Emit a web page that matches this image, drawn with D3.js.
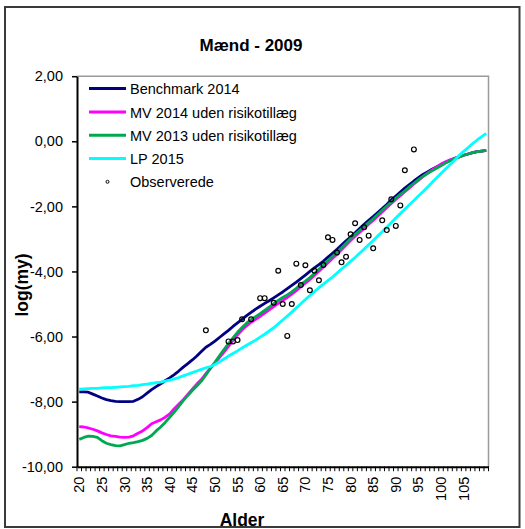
<!DOCTYPE html>
<html>
<head>
<meta charset="utf-8">
<script src="https://cdn.jsdelivr.net/npm/d3@7"></script>
<style>
  html, body { margin: 0; padding: 0; background: #fff; }
  svg text { font-family: Arial, "Liberation Sans", sans-serif; }
</style>
</head>
<body>
<svg id="chart" width="525" height="529"></svg>
<script>
// ---- data ----
const ages = d3.range(20, 111);
const xTickLabels = [20, 25, 30, 35, 40, 45, 50, 55, 60, 65, 70, 75, 80, 85, 90, 95, 100, 105];
const yTickValues = [-10, -8, -6, -4, -2, 0, 2];

const benchmark2014 = [
  -7.70, -7.70, -7.71, -7.77, -7.83, -7.89, -7.94, -7.97, -7.99, -8.00,
  -8.00, -8.00, -7.99, -7.93, -7.85, -7.74, -7.63, -7.54, -7.45, -7.36,
  -7.27, -7.17, -7.06, -6.94, -6.83, -6.72, -6.60, -6.46, -6.33, -6.24,
  -6.14, -6.03, -5.92, -5.81, -5.69, -5.58, -5.47, -5.36, -5.26, -5.16,
  -5.07, -4.98, -4.90, -4.81, -4.72, -4.63, -4.53, -4.43, -4.33, -4.22,
  -4.11, -4.00, -3.89, -3.79, -3.68, -3.56, -3.44, -3.32, -3.19, -3.06,
  -2.94, -2.81, -2.68, -2.55, -2.43, -2.31, -2.19, -2.07, -1.94, -1.80,
  -1.68, -1.56, -1.44, -1.33, -1.22, -1.12, -1.02, -0.94, -0.86, -0.79,
  -0.72, -0.65, -0.59, -0.53, -0.48, -0.43, -0.39, -0.35, -0.32, -0.30,
  -0.28
];
const mv2014 = [
  -8.77, -8.78, -8.81, -8.85, -8.90, -8.96, -9.01, -9.05, -9.07, -9.09,
  -9.10, -9.09, -9.05, -8.97, -8.90, -8.80, -8.68, -8.62, -8.56, -8.48,
  -8.38, -8.22, -8.08, -7.94, -7.78, -7.62, -7.46, -7.32, -7.14, -6.97,
  -6.81, -6.65, -6.48, -6.30, -6.12, -5.95, -5.80, -5.67, -5.56, -5.47,
  -5.38, -5.28, -5.18, -5.08, -4.98, -4.89, -4.80, -4.70, -4.59, -4.47,
  -4.36, -4.25, -4.12, -3.99, -3.86, -3.73, -3.60, -3.47, -3.33, -3.19,
  -3.05, -2.92, -2.80, -2.68, -2.55, -2.43, -2.30, -2.17, -2.04, -1.91,
  -1.79, -1.67, -1.55, -1.43, -1.31, -1.20, -1.09, -0.98, -0.88, -0.79,
  -0.70, -0.63, -0.57, -0.52, -0.47, -0.43, -0.39, -0.35, -0.32, -0.30,
  -0.28
];
const mv2013 = [
  -9.16, -9.10, -9.06, -9.07, -9.10, -9.20, -9.28, -9.32, -9.35, -9.36,
  -9.32, -9.28, -9.26, -9.23, -9.19, -9.13, -9.04, -8.90, -8.78, -8.64,
  -8.48, -8.32, -8.15, -7.97, -7.81, -7.66, -7.52, -7.37, -7.18, -6.98,
  -6.79, -6.59, -6.40, -6.22, -6.04, -5.87, -5.72, -5.59, -5.48, -5.39,
  -5.30, -5.20, -5.10, -4.99, -4.89, -4.80, -4.72, -4.63, -4.52, -4.40,
  -4.30, -4.19, -4.06, -3.93, -3.80, -3.67, -3.54, -3.41, -3.27, -3.13,
  -2.99, -2.86, -2.74, -2.62, -2.50, -2.38, -2.25, -2.12, -1.99, -1.87,
  -1.75, -1.63, -1.52, -1.40, -1.29, -1.18, -1.08, -0.99, -0.91, -0.83,
  -0.75, -0.67, -0.60, -0.54, -0.48, -0.43, -0.39, -0.35, -0.32, -0.30,
  -0.28
];
const lp2015 = [
  -7.62, -7.61, -7.60, -7.59, -7.59, -7.58, -7.57, -7.57, -7.56, -7.55,
  -7.54, -7.53, -7.51, -7.50, -7.48, -7.46, -7.44, -7.42, -7.40, -7.37,
  -7.34, -7.30, -7.26, -7.21, -7.16, -7.11, -7.06, -7.01, -6.96, -6.92,
  -6.86, -6.78, -6.69, -6.60, -6.52, -6.44, -6.35, -6.27, -6.19, -6.11,
  -6.02, -5.93, -5.83, -5.73, -5.61, -5.49, -5.37, -5.25, -5.12, -4.99,
  -4.86, -4.74, -4.62, -4.50, -4.39, -4.28, -4.17, -4.05, -3.93, -3.81,
  -3.69, -3.57, -3.44, -3.31, -3.18, -3.05, -2.91, -2.78, -2.64, -2.50,
  -2.36, -2.22, -2.09, -1.95, -1.82, -1.68, -1.55, -1.41, -1.27, -1.13,
  -0.99, -0.85, -0.72, -0.58, -0.44, -0.31, -0.19, -0.07, 0.04, 0.14,
  0.24
];
const obsAges = [48, 53, 54, 55, 56, 58, 60, 61, 63, 64, 65, 66, 67, 68, 69, 70, 71, 72, 73, 74,
                 75, 76, 77, 78, 79, 80, 81, 82, 83, 84, 85, 87, 88, 89, 90, 91, 92, 94];
const obsValues = [-5.81, -6.15, -6.15, -6.11, -5.47, -5.47, -4.82, -4.82, -4.96, -3.98,
                   -5.00, -5.98, -5.00, -3.76, -4.42, -3.81, -4.58, -3.98, -4.27, -3.80,
                   -2.95, -3.03, -3.42, -3.72, -3.55, -2.86, -2.52, -3.03, -2.64, -2.90,
                   -3.29, -2.43, -2.73, -1.78, -2.60, -1.97, -0.89, -0.25];

const seriesNames = ["Benchmark 2014", "MV 2014 uden risikotillæg", "MV 2013 uden risikotillæg", "LP 2015"];
const seriesColors = ["#000080", "#FF00FF", "#00A84F", "#00FFFF"];
const seriesValues = [benchmark2014, mv2014, mv2013, lp2015];
const obsName = "Observerede";

// ---- layout ----
const svg = d3.select("#chart");
const plot = { left: 77, right: 488.5, top: 76.2, bottom: 466.7 };

svg.append("rect").attr("x", 5).attr("y", 7).attr("width", 514.5).attr("height", 520)
  .attr("fill", "#fff").attr("stroke", "#3a3a3a").attr("stroke-width", 2);

const x = d3.scaleBand().domain(ages).range([plot.left, plot.right]).padding(0);
const y = d3.scaleLinear().domain([-10, 2]).range([plot.bottom, plot.top]);
const cx = a => x(a) + x.bandwidth() / 2;

// plot area frame (top/right grey)
svg.append("path")
  .attr("d", `M${plot.left},${plot.top}H${plot.right}V${plot.bottom}`)
  .attr("fill", "none").attr("stroke", "#9a9a9a").attr("stroke-width", 1.5);

// title
svg.append("text").attr("x", 251).attr("y", 51).attr("text-anchor", "middle")
  .attr("font-size", 17).attr("font-weight", "bold").text("Mænd - 2009");

// y axis
const fmt = v => v.toFixed(2).replace(".", ",");
const yAxis = d3.axisLeft(y).tickValues(yTickValues).tickFormat(fmt).tickSize(5).tickSizeOuter(0);
const gy = svg.append("g").attr("transform", `translate(${plot.left},0)`).call(yAxis);
gy.select(".domain").attr("stroke", "#000").attr("stroke-width", 2);
gy.selectAll(".tick line").attr("stroke", "#000").attr("stroke-width", 1.5);
gy.selectAll(".tick text").attr("font-size", 14.5).attr("fill", "#000").attr("x", -14)
  .attr("font-family", "Arial, 'Liberation Sans', sans-serif");

// x axis
const xAxis = d3.axisBottom(x).tickValues(xTickLabels).tickSize(0).tickSizeOuter(0);
const gx = svg.append("g").attr("transform", `translate(0,${plot.bottom})`).call(xAxis);
gx.select(".domain").attr("stroke", "#000").attr("stroke-width", 2);
gx.selectAll(".tick text")
  .attr("font-size", 14.5).attr("fill", "#000")
  .attr("font-family", "Arial, 'Liberation Sans', sans-serif")
  .attr("transform", "rotate(-90)")
  .attr("text-anchor", "end").attr("x", -10).attr("y", 0).attr("dy", "0.35em");
// minor tick marks at category boundaries
const bounds = ages.map(a => x(a)).concat([plot.right]);
svg.append("g").selectAll("line").data(bounds).join("line")
  .attr("x1", d => d).attr("x2", d => d)
  .attr("y1", plot.bottom).attr("y2", plot.bottom + 4.5)
  .attr("stroke", "#000").attr("stroke-width", 1);

// axis titles
svg.append("text").attr("x", 242).attr("y", 526).attr("text-anchor", "middle")
  .attr("font-size", 17.5).attr("font-weight", "bold").text("Alder");
svg.append("text").attr("transform", "translate(28,285) rotate(-90)").attr("text-anchor", "middle")
  .attr("font-size", 17.5).attr("font-weight", "bold").text("log(my)");

// lines
const line = d3.line().x((d, i) => cx(ages[i])).y(d => y(d));
seriesValues.forEach((vals, k) => {
  svg.append("path").datum(vals)
    .attr("d", line)
    .attr("fill", "none").attr("stroke", seriesColors[k])
    .attr("stroke-width", 2.8).attr("stroke-linejoin", "round");
});

// observed points
svg.append("g").selectAll("circle").data(obsAges).join("circle")
  .attr("cx", d => cx(d)).attr("cy", (d, i) => y(obsValues[i]))
  .attr("r", 2.4).attr("fill", "none").attr("stroke", "#000").attr("stroke-width", 1.2);

// legend
const lg = svg.append("g");
const legendY = [88.5, 112, 135.3, 158.6];
seriesNames.forEach((name, k) => {
  lg.append("line").attr("x1", 89).attr("x2", 126).attr("y1", legendY[k]).attr("y2", legendY[k])
    .attr("stroke", seriesColors[k]).attr("stroke-width", 3);
  lg.append("text").attr("x", 130).attr("y", legendY[k] + 5.5).attr("font-size", 14.5).text(name);
});
lg.append("circle").attr("cx", 107.5).attr("cy", 181.8).attr("r", 1.5)
  .attr("fill", "none").attr("stroke", "#000").attr("stroke-width", 1);
lg.append("text").attr("x", 130).attr("y", 181.8 + 5.5).attr("font-size", 14.5).text(obsName);
</script>
</body>
</html>
